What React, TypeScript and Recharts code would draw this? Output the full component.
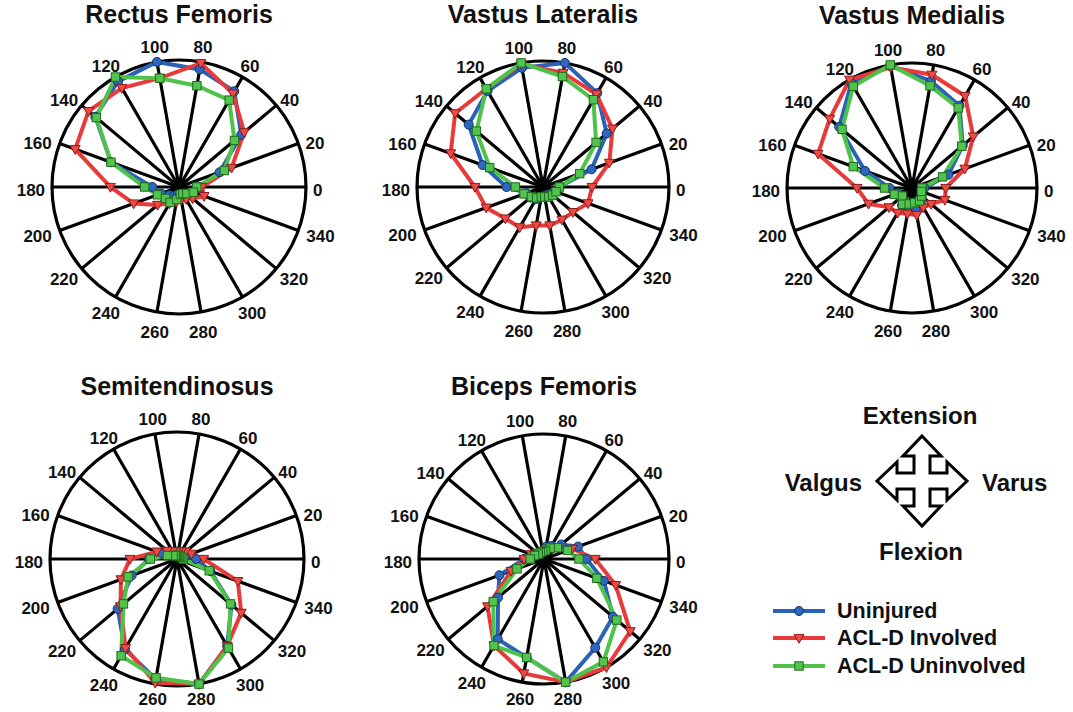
import { RadarChart, Radar, PolarGrid, PolarAngleAxis, PolarRadiusAxis } from 'recharts';

const ANGLES = [0, 20, 40, 60, 80, 100, 120, 140, 160, 180, 200, 220, 240, 260, 280, 300, 320, 340];

const RF_UNINJURED = [0.16, 0.34, 0.64, 0.87, 0.94, 1.0, 0.96, 0.86, 0.57, 0.21, 0.15, 0.10, 0.08, 0.06, 0.06, 0.07, 0.09, 0.12];
const RF_INVOLVED = [0.18, 0.44, 0.67, 0.85, 0.99, 0.87, 0.90, 0.93, 0.87, 0.54, 0.38, 0.22, 0.15, 0.12, 0.10, 0.11, 0.14, 0.21];
const RF_UNINVOLVED = [0.14, 0.38, 0.57, 0.79, 0.81, 0.87, 1.0, 0.85, 0.57, 0.27, 0.18, 0.14, 0.14, 0.10, 0.06, 0.06, 0.08, 0.12];

const VL_UNINJURED = [0.13, 0.41, 0.66, 0.86, 1.0, 0.96, 0.88, 0.77, 0.51, 0.29, 0.14, 0.13, 0.11, 0.08, 0.07, 0.07, 0.08, 0.10];
const VL_INVOLVED = [0.39, 0.56, 0.72, 0.85, 0.92, 0.99, 0.90, 0.91, 0.78, 0.54, 0.48, 0.39, 0.37, 0.31, 0.31, 0.30, 0.31, 0.38];
const VL_UNINVOLVED = [0.13, 0.31, 0.55, 0.80, 0.89, 1.0, 0.90, 0.69, 0.45, 0.22, 0.16, 0.12, 0.10, 0.08, 0.08, 0.09, 0.10, 0.11];

const VM_UNINJURED = [0.10, 0.31, 0.53, 0.76, 0.87, 0.99, 0.97, 0.76, 0.40, 0.18, 0.12, 0.12, 0.16, 0.16, 0.17, 0.14, 0.10, 0.08];
const VM_INVOLVED = [0.27, 0.45, 0.64, 0.85, 0.92, 0.98, 1.0, 0.86, 0.80, 0.44, 0.37, 0.24, 0.23, 0.21, 0.22, 0.18, 0.20, 0.28];
const VM_UNINVOLVED = [0.08, 0.26, 0.52, 0.74, 0.83, 1.0, 0.94, 0.73, 0.50, 0.22, 0.15, 0.10, 0.15, 0.13, 0.12, 0.12, 0.10, 0.08];

const ST_UNINJURED = [0.15, 0.07, 0.05, 0.04, 0.04, 0.04, 0.04, 0.05, 0.12, 0.22, 0.38, 0.61, 0.82, 0.96, 1.0, 0.79, 0.56, 0.28];
const ST_INVOLVED = [0.21, 0.12, 0.09, 0.07, 0.06, 0.06, 0.07, 0.10, 0.17, 0.37, 0.47, 0.58, 0.81, 0.99, 1.0, 0.79, 0.66, 0.51];
const ST_UNINVOLVED = [0.05, 0.04, 0.03, 0.03, 0.03, 0.03, 0.03, 0.04, 0.08, 0.21, 0.41, 0.55, 0.88, 0.95, 1.0, 0.81, 0.55, 0.27];

const BF_UNINJURED = [0.34, 0.29, 0.18, 0.12, 0.10, 0.06, 0.05, 0.06, 0.10, 0.16, 0.38, 0.48, 0.74, 0.80, 1.0, 0.82, 0.72, 0.51];
const BF_INVOLVED = [0.41, 0.24, 0.14, 0.10, 0.07, 0.05, 0.05, 0.07, 0.11, 0.16, 0.28, 0.59, 0.80, 0.93, 1.0, 1.0, 0.90, 0.61];
const BF_UNINVOLVED = [0.28, 0.20, 0.14, 0.10, 0.07, 0.06, 0.06, 0.06, 0.08, 0.11, 0.23, 0.53, 0.80, 0.80, 1.0, 0.95, 0.76, 0.45];

const SERIES_NAMES = ['Uninjured', 'ACL-D Involved', 'ACL-D Uninvolved'];

const BLUE = '#2a62b8';
const RED = '#e83a3a';
const GREEN = '#4fc24a';
const FONT = '"Liberation Sans", Arial, Helvetica, sans-serif';

const SIZE = 360;

function buildRows(uninjured: number[], involved: number[], uninvolved: number[]) {
    return ANGLES.map((angle, i) => ({
        angle,
        uninjured: uninjured[i],
        involved: involved[i],
        uninvolved: uninvolved[i],
    }));
}

const PANELS = [
    { title: 'Rectus Femoris', cx: 179, cy: 187, r: 127, rows: buildRows(RF_UNINJURED, RF_INVOLVED, RF_UNINVOLVED) },
    { title: 'Vastus Lateralis', cx: 543, cy: 187, r: 126, rows: buildRows(VL_UNINJURED, VL_INVOLVED, VL_UNINVOLVED) },
    { title: 'Vastus Medialis', cx: 912, cy: 188, r: 125, rows: buildRows(VM_UNINJURED, VM_INVOLVED, VM_UNINVOLVED) },
    { title: 'Semitendinosus', cx: 177, cy: 559, r: 127, rows: buildRows(ST_UNINJURED, ST_INVOLVED, ST_UNINVOLVED) },
    { title: 'Biceps Femoris', cx: 544, cy: 559, r: 125, rows: buildRows(BF_UNINJURED, BF_INVOLVED, BF_UNINVOLVED) },
];

function CircleDot(props: any) {
    const { cx, cy } = props;
    if (cx == null || cy == null) return <g />;
    return <circle cx={cx} cy={cy} r={4.5} fill="#2f66c0" stroke="#14336a" strokeWidth={1} />;
}

function TriangleDot(props: any) {
    const { cx, cy } = props;
    if (cx == null || cy == null) return <g />;
    return (
        <path
            d={`M${cx - 5},${cy - 3.6} L${cx + 5},${cy - 3.6} L${cx},${cy + 5.2} Z`}
            fill="#ee4a44"
            stroke="#8c1c1c"
            strokeWidth={1}
        />
    );
}

function SquareDot(props: any) {
    const { cx, cy } = props;
    if (cx == null || cy == null) return <g />;
    return <rect x={cx - 4.2} y={cy - 4.2} width={8.4} height={8.4} fill="#52c44e" stroke="#1f6a1f" strokeWidth={1} />;
}

function AngleTick(props: any) {
    const { payload, cx, cy, radius, maxDrop } = props;
    const label = String(payload.value);
    const a = (payload.coordinate * Math.PI) / 180;
    const cos = Math.cos(a);
    const sin = Math.sin(a);
    const hw = label.length * 4.7;
    // labels sit a little wider on the sides and flatter top/bottom, like the source plot
    const dx = radius + 7 + hw * Math.abs(cos) + 2 * Math.abs(sin) + 4 * Math.abs(sin * cos) * (label.length - 1);
    const dy = radius + 2.5 + 15 * Math.abs(sin);
    const x = cx + dx * cos;
    let y = cy - dy * sin + 3;
    if (maxDrop != null) y = Math.min(y, cy + maxDrop);
    return (
        <text
            x={x}
            y={y}
            textAnchor="middle"
            dominantBaseline="central"
            fontFamily={FONT}
            fontWeight="bold"
            fontSize={17}
            fill="#111"
        >
            {label}
        </text>
    );
}

function PolarPanel({ title, cx, cy, r, rows }: { title: string; cx: number; cy: number; r: number; rows: any[] }) {
    // bottom row labels would run off the page edge, pull them up a touch
    const maxDrop = cy > 400 ? 140 : undefined;
    return (
        <>
            <div
                style={{
                    position: 'absolute',
                    left: cx - 180,
                    top: cy - 187,
                    width: 360,
                    textAlign: 'center',
                    fontFamily: FONT,
                    fontWeight: 'bold',
                    fontSize: 25,
                    lineHeight: '28px',
                    color: '#111',
                }}
            >
                {title}
            </div>
            <div style={{ position: 'absolute', left: cx - SIZE / 2, top: cy - SIZE / 2 }}>
                <RadarChart
                    width={SIZE}
                    height={SIZE}
                    cx={SIZE / 2}
                    cy={SIZE / 2}
                    outerRadius={r}
                    startAngle={0}
                    endAngle={360}
                    data={rows}
                    margin={{ top: 0, right: 0, bottom: 0, left: 0 }}
                    style={{ overflow: 'visible' }}
                >
                    <PolarGrid gridType="circle" polarRadius={[r]} stroke="#000" strokeWidth={3.2} strokeOpacity={1} />
                    <PolarAngleAxis
                        dataKey="angle"
                        type="number"
                        domain={[0, 360]}
                        ticks={ANGLES}
                        tick={<AngleTick maxDrop={maxDrop} />}
                        axisLine={false}
                        tickLine={false}
                    />
                    <PolarRadiusAxis domain={[0, 1]} type="number" tick={false} axisLine={false} />
                    <Radar name={SERIES_NAMES[0]} dataKey="uninjured" stroke={BLUE} strokeWidth={4} fill="none" fillOpacity={0} dot={<CircleDot />} isAnimationActive={false} />
                    <Radar name={SERIES_NAMES[1]} dataKey="involved" stroke={RED} strokeWidth={4} fill="none" fillOpacity={0} dot={<TriangleDot />} isAnimationActive={false} />
                    <Radar name={SERIES_NAMES[2]} dataKey="uninvolved" stroke={GREEN} strokeWidth={4} fill="none" fillOpacity={0} dot={<SquareDot />} isAnimationActive={false} />
                </RadarChart>
            </div>
        </>
    );
}

const CROSS = 'M0,-45 L19,-25 L8,-25 L8,-8 L25,-8 L25,-19 L45,0 L25,19 L25,8 L8,8 L8,25 L19,25 L0,45 L-19,25 L-8,25 L-8,8 L-25,8 L-25,19 L-45,0 L-25,-19 L-25,-8 L-8,-8 L-8,-25 L-19,-25 Z';

function Key() {
    const txt = { fontFamily: FONT, fontWeight: 'bold' as const, fill: '#111' };
    const rows = [
        { name: SERIES_NAMES[0], color: BLUE, Dot: CircleDot, y: 611 },
        { name: SERIES_NAMES[1], color: RED, Dot: TriangleDot, y: 638 },
        { name: SERIES_NAMES[2], color: GREEN, Dot: SquareDot, y: 666 },
    ];
    return (
        <svg style={{ position: 'absolute', left: 0, top: 0 }} width={1073} height={712}>
            <text x={920} y={415} textAnchor="middle" dominantBaseline="central" fontSize={24} {...txt}>Extension</text>
            <text x={921} y={551} textAnchor="middle" dominantBaseline="central" fontSize={24} {...txt}>Flexion</text>
            <text x={862} y={482} textAnchor="end" dominantBaseline="central" fontSize={24} {...txt}>Valgus</text>
            <text x={982} y={482} textAnchor="start" dominantBaseline="central" fontSize={24} {...txt}>Varus</text>
            <path d={CROSS} transform="translate(922,481)" fill="#fff" stroke="#000" strokeWidth={3} strokeLinejoin="miter" />
            {rows.map(({ name, color, Dot, y }) => (
                <g key={name}>
                    <line x1={773} x2={825} y1={y} y2={y} stroke={color} strokeWidth={4} />
                    <Dot cx={799} cy={y} />
                    <text x={837} y={y} dominantBaseline="central" fontSize={21.5} {...txt}>{name}</text>
                </g>
            ))}
        </svg>
    );
}

export default function App() {
    return (
        <div style={{ position: 'absolute', left: 0, top: 0, width: 1073, height: 712, overflow: 'hidden', background: '#fff' }}>
            {PANELS.map((p) => (
                <PolarPanel key={p.title} {...p} />
            ))}
            <Key />
        </div>
    );
}
